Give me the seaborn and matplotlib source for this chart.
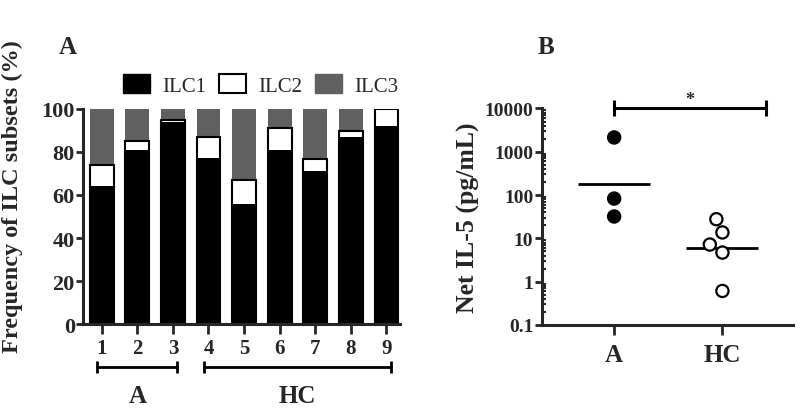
import numpy as np
import pandas as pd
import matplotlib.pyplot as plt
import seaborn as sns
from matplotlib.patches import Patch
from matplotlib.transforms import blended_transform_factory
from matplotlib.ticker import FixedLocator, LogLocator, FuncFormatter, NullFormatter

# --- data: panel A (stacked frequencies, %) ---
samples = ["1", "2", "3", "4", "5", "6", "7", "8", "9"]
ilc1 = [64, 81, 94, 77, 56, 81, 71, 87, 92]
ilc2 = [10, 4, 1, 10, 11, 10, 5.5, 2.5, 8]
ilc3 = [26, 15, 5, 13, 33, 9, 23.5, 10.5, 0]
groups = {"A": ["1", "2", "3"], "HC": ["4", "5", "6", "7", "8", "9"]}

# --- data: panel B (net IL-5, pg/mL) ---
il5_a = [2140, 83, 32]
il5_hc = [27.7, 13.7, 7.2, 4.7, 0.61]

GRAY = "#606060"
sns.set_theme(style="ticks")
plt.rcParams["font.family"] = ["Liberation Serif", "DejaVu Serif"]
plt.rcParams["font.weight"] = "bold"

df = pd.DataFrame({"sample": samples, "ILC1": ilc1, "ILC2": ilc2, "ILC3": ilc3})
df["top2"] = df["ILC1"] + df["ILC2"]
df["top3"] = df["top2"] + df["ILC3"]

fig = plt.figure(figsize=(8, 4.1), dpi=100)

# ---------- panel A ----------
ax1 = fig.add_axes([0.104, 0.207, 0.396, 0.525])
sns.barplot(data=df, x="sample", y="top3", order=samples, color=GRAY, saturation=1,
            width=0.67, edgecolor="none", ax=ax1)
sns.barplot(data=df, x="sample", y="top2", order=samples, color="white", saturation=1,
            width=0.67, edgecolor="black", linewidth=1.5, ax=ax1)
sns.barplot(data=df, x="sample", y="ILC1", order=samples, color="black", saturation=1,
            width=0.67, edgecolor="none", ax=ax1)
ax1.set_ylim(0, 100)
ax1.set_xlim(-0.52, 8.38)
ax1.set_yticks([0, 20, 40, 60, 80, 100])
ax1.set_xlabel("")
ax1.set_ylabel("Frequency of ILC subsets (%)", fontsize=17.5, fontweight="bold")
ax1.yaxis.set_label_coords(-0.19, 0.595)
sns.despine(ax=ax1)
for s in ["left", "bottom"]:
    ax1.spines[s].set_linewidth(2.2)
ax1.tick_params(axis="y", direction="out", length=5, width=2, labelsize=16, pad=1)
ax1.tick_params(axis="x", direction="out", length=7, width=2, labelsize=15, pad=3)

handles = [Patch(facecolor="black", edgecolor="black"),
           Patch(facecolor="white", edgecolor="black", linewidth=1.5),
           Patch(facecolor=GRAY, edgecolor=GRAY)]
ax1.legend(handles, ["ILC1", "ILC2", "ILC3"], loc="center", bbox_to_anchor=(0.56, 1.11),
           ncol=3, frameon=False, prop={"size": 15, "weight": "normal"},
           handlelength=1.3, handleheight=1.0, columnspacing=0.6, handletextpad=0.6)

tr = blended_transform_factory(ax1.transData, ax1.transAxes)
for name, members in groups.items():
    i0 = samples.index(members[0]) - 0.12
    i1 = samples.index(members[-1]) + 0.12
    ax1.plot([i0, i1], [-0.2, -0.2], color="black", lw=2, transform=tr, clip_on=False,
             marker="|", markersize=9, markeredgewidth=2)
    ax1.text((i0 + i1) / 2, -0.33, name, transform=tr, ha="center", va="center",
             fontsize=18, fontweight="bold")

fig.text(0.085, 0.885, "A", fontsize=18, fontweight="bold", ha="center", va="center")

# ---------- panel B ----------
df2 = pd.DataFrame({"group": ["A"] * len(il5_a) + ["HC"] * len(il5_hc),
                    "il5": il5_a + il5_hc})
ax2 = fig.add_axes([0.677, 0.205, 0.314, 0.528])
ax2.set_yscale("log")
sns.swarmplot(data=df2, x="group", y="il5", hue="group", palette={"A": "black", "HC": "white"},
              size=8.8, edgecolor="black", linewidth=1.6, legend=False, ax=ax2)
# horizontal bar = mean in log space (geometric mean)
sns.pointplot(data=df2, x="group", y="il5", estimator="mean", errorbar=None,
              linestyle="none", marker="_", markersize=52, markeredgewidth=2,
              color="black", ax=ax2)
ax2.set_ylim(0.1, 10000)
ax2.set_xlim(-0.67, 1.65)
ax2.yaxis.set_major_locator(FixedLocator([0.1, 1, 10, 100, 1000, 10000]))
ax2.yaxis.set_major_formatter(FuncFormatter(lambda v, _: f"{v:g}"))
ax2.yaxis.set_minor_locator(LogLocator(base=10, subs=np.arange(2, 10)))
ax2.yaxis.set_minor_formatter(NullFormatter())
ax2.set_xlabel("")
ax2.set_ylabel("Net IL-5 (pg/mL)", fontsize=18.5, fontweight="bold", labelpad=3)
sns.despine(ax=ax2)
for s in ["left", "bottom"]:
    ax2.spines[s].set_linewidth(2.2)
ax2.tick_params(axis="y", which="major", direction="out", length=5, width=2, labelsize=14, pad=1)
ax2.tick_params(axis="y", which="minor", direction="in", length=3, width=1.5)
ax2.tick_params(axis="x", direction="out", length=7, width=2, labelsize=18, pad=6)

ax2.plot([0, 1.4], [10000, 10000], color="black", lw=2.2, clip_on=False,
         marker="|", markersize=12, markeredgewidth=2.2)
ax2.text(0.7, 10000 * 1.02, "*", ha="center", va="bottom", fontsize=13, fontweight="bold")

fig.text(0.682, 0.885, "B", fontsize=18, fontweight="bold", ha="center", va="center")

fig.savefig("out.png", dpi=100)
